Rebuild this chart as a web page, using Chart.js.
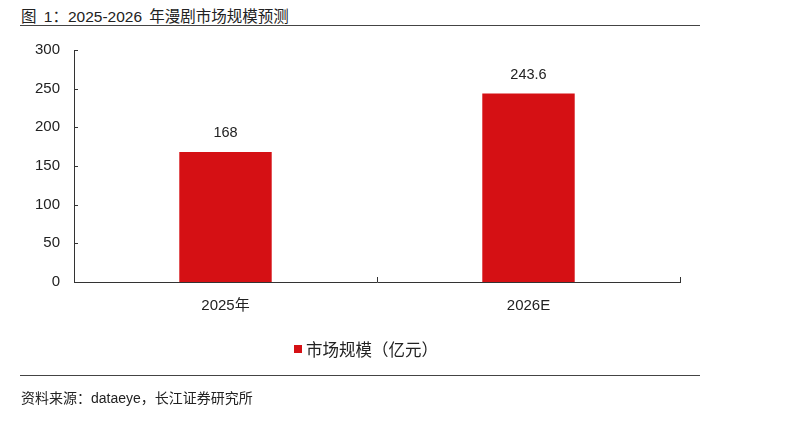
<!DOCTYPE html>
<html>
<head>
<meta charset="utf-8">
<script src="https://cdn.jsdelivr.net/npm/chart.js@4.4.1/dist/chart.umd.min.js"></script>
<style>
  html, body { margin: 0; padding: 0; background: #fff; }
  body { width: 800px; height: 448px; position: relative; overflow: hidden;
    font-family: "Liberation Sans", Arial, "Noto Sans CJK SC", sans-serif; color: #222; }
  #chart { position: absolute; left: 0; top: 0; }
  .title { position: absolute; left: 21px; top: 4px; font-size: 15.5px; word-spacing: 3px; }
  .rule { position: absolute; left: 20px; width: 680px; height: 0; border-top: 1.5px solid #444; }
  .source { position: absolute; left: 21px; top: 387px; font-size: 14px; }
  .legend { position: absolute; top: 337px; left: 294px; font-size: 16.5px; display: flex; align-items: center; }
  .legend i { display: inline-block; width: 8px; height: 8px; background: #d51014; margin-right: 4px; }
</style>
</head>
<body>
<div class="title">图 1：2025-2026 年漫剧市场规模预测</div>
<div class="rule" style="top:25px"></div>
<canvas id="chart" width="800" height="448"></canvas>
<div class="legend"><i></i>市场规模（亿元）</div>
<div class="rule" style="top:375px"></div>
<div class="source">资料来源：dataeye，长江证券研究所</div>
<script>
const categories = ["2025年", "2026E"];
const marketSize = [168, 243.6];
const yTicks = [0, 50, 100, 150, 200, 250, 300];
const seriesLabel = "市场规模（亿元）";

const RED = "#d51014";
const INK = "#222";

// inward ticks + value labels
const decor = {
  id: "decor",
  afterDraw(chart) {
    const { ctx, scales } = chart;
    const x = scales.x, y = scales.y;
    ctx.save();
    ctx.strokeStyle = "#333";
    ctx.lineWidth = 1;
    ctx.beginPath();
    yTicks.forEach((v) => {
      const py = Math.round(y.getPixelForValue(v)) + 0.5;
      ctx.moveTo(x.left, py);
      ctx.lineTo(x.left + 4, py);
    });
    for (let i = 0; i <= categories.length; i++) {
      const px = Math.round(x.left + (x.width * i) / categories.length) + 0.5;
      ctx.moveTo(px, y.bottom);
      ctx.lineTo(px, y.bottom - 5);
    }
    ctx.stroke();

    const meta = chart.getDatasetMeta(0);
    ctx.fillStyle = INK;
    ctx.font = '14.5px "Liberation Sans", Arial, sans-serif';
    ctx.textAlign = "center";
    ctx.textBaseline = "middle";
    meta.data.forEach((bar, i) => {
      ctx.fillText(String(marketSize[i]), bar.x, bar.y - 19);
    });
    ctx.restore();
  },
};

new Chart(document.getElementById("chart"), {
  type: "bar",
  data: {
    labels: categories,
    datasets: [
      {
        label: seriesLabel,
        data: marketSize,
        backgroundColor: RED,
        borderWidth: 0,
        categoryPercentage: 1,
        barPercentage: 0.305,
      },
    ],
  },
  options: {
    responsive: false,
    animation: false,
    layout: { padding: { left: 0, right: 120, top: 50, bottom: 0 } },
    plugins: { legend: { display: false }, tooltip: { enabled: false } },
    scales: {
      x: {
        grid: { display: false, drawTicks: false },
        border: { color: "#333", width: 1 },
        ticks: { color: INK, padding: 15, font: { size: 15, family: '"Liberation Sans", Arial, "Noto Sans CJK SC", sans-serif' } },
        afterFit: (s) => { s.height = 166; },
      },
      y: {
        min: 0,
        max: 300,
        grid: { display: false, drawTicks: false },
        border: { color: "#333", width: 1 },
        ticks: { color: INK, stepSize: 50, padding: 14, font: { size: 15, family: '"Liberation Sans", Arial, sans-serif' } },
        afterFit: (s) => { s.width = 74; },
      },
    },
  },
  plugins: [decor],
});
</script>
</body>
</html>
